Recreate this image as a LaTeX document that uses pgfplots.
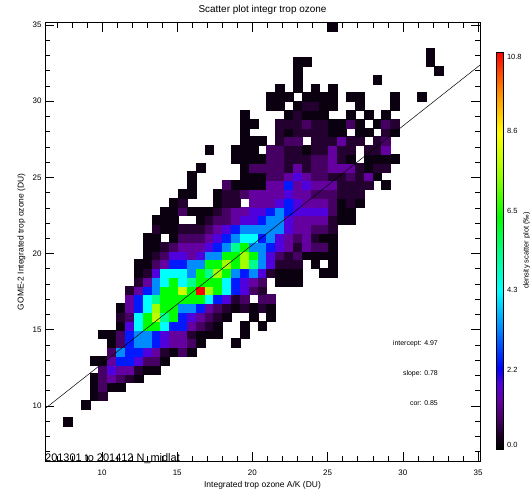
\documentclass[border=0pt]{standalone}
\usepackage{fontspec}
\setmainfont{Liberation Sans}
\usepackage{pgfplots}
\usepackage{pgfplotstable}
\pgfplotsset{compat=1.18}
\pgfplotstableread{
i j v
2 4 .15
4 6 .15
5 7 .15
6 7 .45
5 8 .15
6 8 .8
7 8 .15
8 8 .15
5 9 .15
6 9 .8
7 9 1.3
8 9 .8
9 9 .45
10 9 .15
6 10 .8
7 10 1.8
8 10 1.3
9 10 1.3
10 10 .45
11 10 .15
12 10 .15
5 11 .15
6 11 .15
7 11 1.3
8 11 2.4
9 11 2.4
10 11 1.8
11 11 .8
12 11 .8
13 11 .15
7 12 .8
8 12 3.3
9 12 2.4
10 12 2.4
11 12 1.8
12 12 1.3
13 12 .45
14 12 .15
15 12 .8
16 12 .15
7 13 .15
8 13 .8
9 13 2.4
10 13 3.3
11 13 3.3
12 13 2.4
13 13 1.8
14 13 1.3
15 13 1.3
16 13 .8
17 13 .15
21 13 .15
6 14 .15
7 14 .15
8 14 .8
9 14 2.4
10 14 3.3
11 14 3.3
12 14 2.4
13 14 1.8
14 14 1.3
15 14 1.3
16 14 .45
17 14 .15
18 14 .15
19 14 .15
22 14 .15
8 15 .15
9 15 1.8
10 15 4.3
11 15 6.3
12 15 6.3
13 15 4.3
14 15 2.4
15 15 2.4
16 15 1.3
17 15 .8
18 15 .45
19 15 .15
22 15 .15
24 15 .15
8 16 .45
9 16 .8
10 16 4.3
11 16 6.3
12 16 7.8
13 16 5.3
14 16 6.3
15 16 2.4
16 16 1.8
17 16 1.3
18 16 .8
19 16 .45
20 16 .15
23 16 .15
25 16 .15
8 17 .15
9 17 1.3
10 17 2.4
11 17 4.3
12 17 7.5
13 17 6.3
14 17 6.3
15 17 3.3
16 17 3.3
17 17 2.4
18 17 1.3
19 17 .8
20 17 .45
21 17 .15
22 17 .45
23 17 .15
24 17 .45
25 17 .15
9 18 1.3
10 18 2.4
11 18 4.3
12 18 5.3
13 18 6.3
14 18 6.3
15 18 6.3
16 18 6.3
17 18 6.3
18 18 4.3
19 18 2.4
20 18 1.8
21 18 .45
22 18 .8
24 18 .8
25 18 .8
9 19 .45
10 19 1.3
11 19 2.4
12 19 3.3
13 19 6.3
14 19 6.3
15 19 8.0
16 19 6.3
17 19 10.8
18 19 7.5
19 19 6.3
20 19 4.3
21 19 2.4
22 19 1.8
23 19 .8
24 19 .45
10 20 .45
11 20 1.3
12 20 3.3
13 20 4.3
14 20 6.3
15 20 4.3
16 20 5.3
17 20 6.3
18 20 6.3
19 20 6.3
20 20 4.3
21 20 2.4
22 20 1.8
23 20 1.3
24 20 .8
26 20 .15
27 20 .15
28 20 .15
10 21 .15
11 21 .45
12 21 1.8
13 21 4.3
14 21 4.3
15 21 4.3
16 21 3.3
17 21 6.3
18 21 5.3
19 21 7.5
20 21 6.3
21 21 3.3
22 21 2.4
23 21 3.3
24 21 1.8
25 21 .45
26 21 .15
27 21 .15
28 21 .15
31 21 .15
32 21 .15
10 22 .15
11 22 .15
12 22 .8
13 22 1.3
14 22 2.4
15 22 2.4
16 22 3.3
17 22 3.3
18 22 6.3
19 22 6.3
20 22 7.5
21 22 6.3
22 22 7.5
23 22 5.3
24 22 3.3
25 22 1.8
26 22 .45
27 22 .45
28 22 .45
30 22 .15
32 22 .15
11 23 .15
12 23 .45
13 23 .8
14 23 1.8
15 23 1.8
16 23 1.3
17 23 1.8
18 23 3.3
19 23 3.3
20 23 6.3
21 23 6.3
22 23 7.5
23 23 6.3
24 23 3.3
25 23 1.8
26 23 .8
27 23 .45
28 23 .8
29 23 .15
30 23 .15
31 23 .15
32 23 .15
11 24 .15
12 24 .15
13 24 .45
14 24 .8
15 24 1.3
16 24 1.3
17 24 1.3
18 24 1.8
19 24 2.4
20 24 3.3
21 24 5.3
22 24 6.3
23 24 3.3
24 24 3.3
25 24 2.4
26 24 1.8
27 24 1.3
28 24 .45
29 24 1.3
30 24 .8
31 24 .8
32 24 .15
11 25 .15
12 25 .15
14 25 .15
15 25 .8
16 25 .8
17 25 .8
18 25 1.3
19 25 1.8
20 25 2.4
21 25 3.3
22 25 4.3
23 25 4.3
24 25 2.4
25 25 3.3
26 25 1.8
27 25 1.3
28 25 .8
29 25 1.3
30 25 .45
31 25 .15
32 25 .15
12 26 .45
13 26 .15
14 26 .15
15 26 .45
16 26 .45
17 26 .45
18 26 .8
19 26 1.3
20 26 1.8
21 26 2.4
22 26 3.3
23 26 3.3
24 26 3.3
25 26 3.3
26 26 3.3
27 26 1.8
28 26 1.3
29 26 1.3
30 26 .8
31 26 .8
32 26 .45
12 27 .15
13 27 .15
14 27 .15
17 27 .15
18 27 .45
19 27 .8
20 27 .8
21 27 1.3
22 27 1.8
23 27 1.8
24 27 2.4
25 27 3.3
26 27 3.3
27 27 1.8
28 27 1.3
29 27 1.3
30 27 1.3
31 27 1.3
32 27 .45
33 27 .15
34 27 .15
13 28 .15
14 28 .15
15 28 .8
16 28 .15
17 28 .15
18 28 .15
19 28 .45
20 28 .8
21 28 1.3
22 28 1.3
23 28 1.8
24 28 1.8
25 28 2.4
26 28 3.3
27 28 2.4
28 28 1.8
29 28 1.8
30 28 1.8
31 28 1.8
32 28 .8
33 28 .15
34 28 .15
14 29 .15
15 29 .45
19 29 .15
20 29 .45
21 29 .45
23 29 1.3
24 29 1.3
25 29 1.3
26 29 1.8
27 29 2.4
28 29 1.8
29 29 1.3
30 29 1.3
31 29 1.3
32 29 .8
33 29 .15
34 29 .45
35 29 .15
15 30 .15
16 30 .15
19 30 .15
20 30 .45
21 30 .45
22 30 .8
23 30 1.3
24 30 1.3
25 30 1.3
26 30 1.3
27 30 1.8
28 30 1.3
29 30 1.3
30 30 .8
31 30 .8
32 30 .8
33 30 .45
34 30 .45
35 30 .45
16 31 .15
20 31 .8
21 31 .15
22 31 .15
23 31 .15
24 31 .15
25 31 1.3
26 31 1.3
27 31 2.4
28 31 1.3
29 31 1.8
30 31 1.3
31 31 1.3
32 31 1.3
33 31 .45
34 31 .45
35 31 .45
36 31 .45
38 31 .15
16 32 .15
22 32 .15
23 32 .15
24 32 .15
25 32 .8
26 32 .8
27 32 1.3
28 32 1.8
29 32 1.3
30 32 .8
31 32 .8
32 32 .45
33 32 .45
34 32 .8
35 32 .45
36 32 1.3
37 32 .15
17 33 .15
22 33 .15
23 33 .8
24 33 .8
25 33 .8
26 33 .8
27 33 .45
28 33 1.3
29 33 .45
30 33 .8
31 33 .8
32 33 1.3
33 33 1.3
34 33 1.3
35 33 .45
36 33 .15
37 33 .45
38 33 .45
21 34 .15
22 34 .15
23 34 .15
24 34 .15
25 34 .8
26 34 .8
27 34 .45
28 34 .45
29 34 .45
30 34 .8
31 34 .8
32 34 1.3
33 34 .45
34 34 .15
36 34 .15
37 34 .15
38 34 .15
39 34 .15
18 35 .15
21 35 .15
22 35 .15
23 35 .15
25 35 .8
26 35 .8
27 35 .45
28 35 .45
29 35 .15
30 35 .45
31 35 .45
32 35 1.3
33 35 .45
34 35 .45
36 35 .45
37 35 .45
38 35 1.3
22 36 .15
23 36 .15
24 36 .15
26 36 .45
27 36 .8
28 36 .8
30 36 .45
31 36 .45
32 36 .45
33 36 1.3
34 36 .45
35 36 .45
37 36 .45
38 36 .8
22 37 .15
26 37 .45
27 37 .15
28 37 .45
29 37 .45
30 37 .45
31 37 .45
32 37 .15
33 37 .15
35 37 .15
36 37 .15
38 37 .45
39 37 .15
22 38 .15
23 38 .15
26 38 .45
27 38 .45
28 38 .45
29 38 .8
30 38 .45
31 38 .45
32 38 .15
33 38 .15
34 38 .8
35 38 .15
37 38 .15
38 38 .8
39 38 .45
22 39 .15
27 39 .15
28 39 .45
29 39 .15
30 39 .15
31 39 .15
34 39 .15
36 39 .15
38 39 .15
25 40 .15
26 40 .15
28 40 .15
29 40 .45
30 40 .45
31 40 .15
32 40 .15
35 40 .15
39 40 .15
25 41 .15
26 41 .15
27 41 .15
29 41 .15
30 41 .15
31 41 .15
32 41 .15
34 41 .15
35 41 .15
39 41 .15
42 41 .15
26 42 .15
28 42 .15
30 42 .15
32 42 .15
28 43 .15
37 43 .15
28 44 .15
44 44 .15
28 45 .15
29 45 .15
43 45 .15
43 46 .15
32 49 .15
}\cells

\begin{document}
\begin{tikzpicture}
\useasboundingbox (0,0) rectangle (530bp,497bp);
\begin{axis}[
  at={(45bp,36bp)}, anchor=south west,
  scale only axis, width=435bp, height=438.3bp,
  xmin=6.21, xmax=35.13, ymin=6.38, ymax=35.15,
  xtick={10,15,...,35}, ytick={10,15,...,35},
  minor xtick={7,...,35}, minor ytick={7,...,35},
  tick align=inside, major tick length=9bp, minor tick length=5bp,
  every tick/.style={black, line width=0.5bp},
  axis line style={line width=0.6bp},
  /pgf/number format/assume math mode=true,
  ticklabel style={font=\fontsize{8}{9}\selectfont},
  xticklabel style={yshift=-5bp},
  every axis title shift=0pt,
  title={Scatter plot integr trop ozone},
  title style={font=\fontsize{10}{12}\selectfont, at={(axis description cs:0.5,1.0285)}, anchor=center},
  xlabel={Integrated trop ozone A/K (DU)},
  xlabel style={font=\fontsize{8.5}{10}\selectfont, at={(axis description cs:0.5,-0.0548)}, anchor=center},
  ylabel={GOME-2 Integrated trop ozone (DU)},
  ylabel style={font=\fontsize{8.5}{10}\selectfont, at={(axis description cs:-0.054,0.5)}, anchor=center},
  colormap={idl}{[1pt]
    rgb255(0pt)=(0,0,0);
    rgb255(4pt)=(30,0,40);
    rgb255(8pt)=(70,0,100);
    rgb255(13pt)=(100,0,160);
    rgb255(18pt)=(80,0,220);
    rgb255(22pt)=(0,0,255);
    rgb255(33pt)=(0,140,255);
    rgb255(43pt)=(0,255,255);
    rgb255(53pt)=(0,255,140);
    rgb255(63pt)=(0,255,0);
    rgb255(75pt)=(160,255,0);
    rgb255(86pt)=(255,255,0);
    rgb255(97pt)=(255,140,0);
    rgb255(108pt)=(255,0,0)},
  point meta min=0, point meta max=10.8,
  colorbar,
  colorbar style={
    at={(parent axis.south east)}, anchor=south west, xshift=8bp, yshift=12bp,
    scale only axis, width=7bp, height=397bp,
    ytick={0.11,2.16,4.32,6.48,8.64,10.66},
    yticklabels={0.0,2.2,4.3,6.5,8.6,10.8},
    major tick length=0pt,
    yticklabel style={font=\fontsize{7.5}{9}\selectfont},
    axis line style={line width=0.6bp},
    ylabel={density scatter plot (‰)},
    ylabel style={font=\fontsize{7.5}{9}\selectfont, at={(axis description cs:4.3,0.5)}, anchor=center},
  },
  clip mode=individual,
]
\addplot[scatter, only marks, mark=square*, mark size=4.42bp,
  scatter/use mapped color={draw=mapped color, fill=mapped color},
  point meta=explicit]
  table[x expr={6.544+0.5878*\thisrow{i}}, y expr={6.635+0.5765*\thisrow{j}}, meta=v] {\cells};
\addplot[black, line width=0.5bp, no marks] coordinates {(6.21,9.814) (35.13,32.371)};
\node[anchor=east, inner sep=0, font=\fontsize{7}{8}\selectfont] at (axis cs:32.34,14.07) {intercept: 4.97};
\node[anchor=east, inner sep=0, font=\fontsize{7}{8}\selectfont] at (axis cs:32.34,12.13) {slope: 0.78};
\node[anchor=east, inner sep=0, font=\fontsize{7}{8}\selectfont] at (axis cs:32.34,10.16) {cor: 0.85};
\node[anchor=base west, inner sep=0, yshift=-0.5bp, font=\fontsize{11}{13}\selectfont] at (axis cs:6.21,6.38) {201301 to 201412 N\_midlat};
\end{axis}
\end{tikzpicture}
\end{document}
